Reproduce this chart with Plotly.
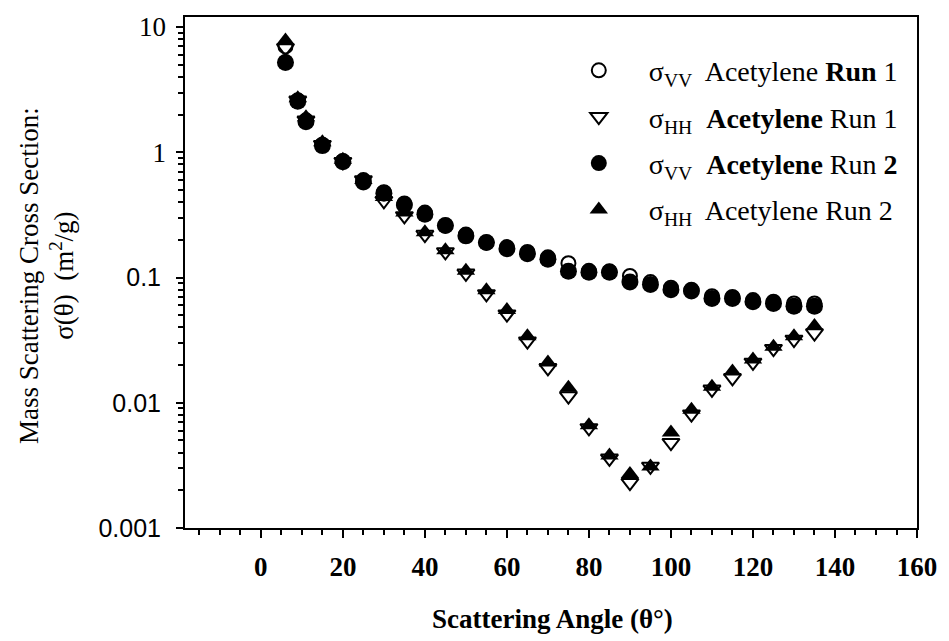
import plotly.graph_objects as go

angles = [6, 9, 11, 15, 20, 25, 30, 35, 40, 45, 50, 55, 60, 65, 70, 75, 80, 85, 90,
          95, 100, 105, 110, 115, 120, 125, 130, 135]

vv_run1 = [7.0, 2.6, 1.8, 1.15, 0.85, 0.60, 0.48, 0.39, 0.33, 0.26, 0.22, 0.19, 0.175, 0.16,
           0.145, 0.13, 0.113, 0.112, 0.103, 0.092, 0.083, 0.080, 0.071, 0.070, 0.066, 0.064,
           0.062, 0.062]
hh_run1 = [6.8, 2.6, 1.8, 1.15, 0.84, 0.60, 0.41, 0.31, 0.22, 0.16, 0.108, 0.074, 0.051, 0.031,
           0.019, 0.0113, 0.0063, 0.0036, 0.0023, 0.0031, 0.0048, 0.0081, 0.0128, 0.0158,
           0.021, 0.027, 0.032, 0.036]
vv_run2 = [5.2, 2.55, 1.75, 1.13, 0.84, 0.58, 0.47, 0.38, 0.32, 0.26, 0.215, 0.19, 0.17, 0.155,
           0.14, 0.112, 0.11, 0.11, 0.092, 0.088, 0.080, 0.078, 0.068, 0.068, 0.064, 0.062,
           0.059, 0.059]
hh_run2 = [7.8, 2.7, 1.9, 1.2, 0.87, 0.60, 0.44, 0.33, 0.23, 0.165, 0.113, 0.079, 0.055, 0.034,
           0.021, 0.0132, 0.0066, 0.0038, 0.0027, 0.0031, 0.0058, 0.0088, 0.0134, 0.0178,
           0.0222, 0.028, 0.034, 0.041]

names = [
    "σ<sub>VV</sub>  Acetylene <b>Run</b> 1",
    "σ<sub>HH</sub>  <b>Acetylene</b> Run 1",
    "σ<sub>VV</sub>  <b>Acetylene</b> Run <b>2</b>",
    "σ<sub>HH</sub>  Acetylene Run 2",
]

# decimal labels are sans-serif, integer labels serif (as in the reference)
y_sans_vals = [0.001, 0.01, 0.1, 1, 10]
y_sans_text = ["0.001", "0.01", "0.1", "", ""]
y_serif_vals = [1, 10]
y_serif_text = ["1", "10"]

SERIF = "Liberation Serif"
SANS = "Liberation Sans"

fig = go.Figure()
fig.add_trace(go.Scatter(x=angles, y=vv_run1, mode="markers", name=names[0], legendgroup="a",
                         marker=dict(symbol="circle-open", size=14, color="black",
                                     line=dict(width=2, color="black"))))
fig.add_trace(go.Scatter(x=angles, y=hh_run1, mode="markers", name=names[1], legendgroup="b",
                         marker=dict(symbol="triangle-down-open", size=15, color="black",
                                     line=dict(width=2, color="black"))))
fig.add_trace(go.Scatter(x=angles, y=vv_run2, mode="markers", name=names[2], legendgroup="c",
                         marker=dict(symbol="circle", size=17, color="black")))
fig.add_trace(go.Scatter(x=angles, y=hh_run2, mode="markers", name=names[3], legendgroup="d",
                         marker=dict(symbol="triangle-up", size=16, color="black")))
# invisible carrier so the overlaid serif label axis is drawn
fig.add_trace(go.Scatter(x=angles[:1], y=vv_run1[:1], yaxis="y2", mode="markers",
                         marker=dict(opacity=0), showlegend=False, hoverinfo="skip"))

minor_y = [m * 10 ** e for e in range(-3, 1) for m in range(2, 10)]
yrange = [-3, 1.08]

fig.update_layout(
    width=949, height=641,
    margin=dict(l=185, r=27, t=17, b=113),
    paper_bgcolor="white", plot_bgcolor="white",
    font=dict(family=SERIF, color="black", size=24),
    legend=dict(x=0.497, y=0.944, xanchor="left", yanchor="top",
                bgcolor="rgba(0,0,0,0)", font=dict(family=SERIF, size=28, color="black"),
                tracegroupgap=7, itemwidth=90),
    xaxis=dict(range=[-18.5, 160], tick0=0, dtick=20, showline=True, linecolor="black",
               linewidth=2, mirror=True, ticks="outside", ticklen=8, tickwidth=2,
               tickcolor="black", showgrid=False, zeroline=False, ticklabelstandoff=6,
               tickfont=dict(family=SERIF, size=27, color="black"),
               tickprefix="<b>", ticksuffix="</b>",
               minor=dict(dtick=5, ticks="outside", ticklen=5, tickwidth=1.5,
                          tickcolor="black", showgrid=False)),
    yaxis=dict(type="log", range=yrange, tickmode="array", tickvals=y_sans_vals,
               ticktext=y_sans_text, showline=True, linecolor="black", linewidth=2,
               mirror=True, ticks="outside", ticklen=7, tickwidth=2, tickcolor="black",
               showgrid=False, zeroline=False, ticklabelstandoff=10,
               tickfont=dict(family=SANS, size=25, color="black"),
               minor=dict(tickvals=minor_y, ticks="outside", ticklen=5, tickwidth=1.5,
                          tickcolor="black", showgrid=False)),
    yaxis2=dict(type="log", range=yrange, overlaying="y", side="left", tickmode="array",
                tickvals=y_serif_vals, ticktext=y_serif_text, ticks="", showline=False,
                showgrid=False, zeroline=False, ticklabelstandoff=18,
                tickfont=dict(family=SERIF, size=27, color="black")),
)

fig.add_annotation(xref="paper", yref="paper", x=-0.19, y=0.495, xanchor="center",
                   yanchor="middle", textangle=-90, showarrow=False,
                   text="Mass Scattering Cross Section:<br>σ(θ)  (m<sup>2</sup>/g)",
                   font=dict(family=SERIF, size=27, color="black"))
fig.add_annotation(xref="paper", yref="paper", x=0.502, y=-0.178, xanchor="center",
                   yanchor="middle", showarrow=False,
                   text="<b>Scattering Angle (θ°)</b>",
                   font=dict(family=SERIF, size=27, color="black"))

fig.write_html("out.html", config={"displayModeBar": False},
               post_script="document.body.style.margin='0';")
